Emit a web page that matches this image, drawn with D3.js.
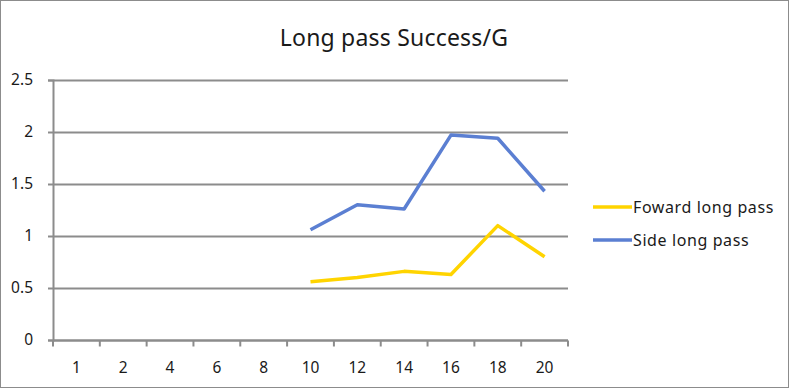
<!DOCTYPE html>
<html>
<head>
<meta charset="utf-8">
<script src="https://cdn.jsdelivr.net/npm/d3@7"></script>
<style>
  body { margin: 0; background: #fff; }
  text { font-family: "Noto Sans", "Open Sans", sans-serif; fill: #1a1a1a; }
</style>
</head>
<body>
<div id="chart"></div>
<script>
const categories = ["1", "2", "4", "6", "8", "10", "12", "14", "16", "18", "20"];
const forwardValues = [null, null, null, null, null, 0.56, 0.60, 0.66, 0.63, 1.10, 0.80];
const sideValues = [null, null, null, null, null, 1.06, 1.30, 1.26, 1.97, 1.94, 1.43];
const yTicks = [0, 0.5, 1, 1.5, 2, 2.5];

const series = [
    { name: "Foward long pass", values: forwardValues, color: "#ffd400" },
    { name: "Side long pass", values: sideValues, color: "#5b7fd2" }
];

const width = 789, height = 388;
const margin = { top: 80, right: 221, bottom: 48, left: 53 };

const svg = d3.select("#chart").append("svg")
    .attr("width", width)
    .attr("height", height);

// chart frame
svg.append("rect")
    .attr("x", 0.5).attr("y", 0.5)
    .attr("width", width - 1).attr("height", height - 1)
    .attr("fill", "#fff")
    .attr("stroke", "#8c8c8c");

svg.append("text")
    .attr("x", 394).attr("y", 46)
    .attr("text-anchor", "middle")
    .style("font-size", "23px")
    .style("letter-spacing", "0.2px")
    .text("Long pass Success/G");

const x = d3.scaleBand()
    .domain(categories)
    .range([margin.left, width - margin.right]);

const y = d3.scaleLinear()
    .domain([0, 2.5])
    .range([height - margin.bottom, margin.top]);

// gridlines
svg.append("g")
    .selectAll("line")
    .data(yTicks)
    .join("line")
    .attr("x1", margin.left).attr("x2", width - margin.right)
    .attr("y1", d => Math.round(y(d)) + 0.5)
    .attr("y2", d => Math.round(y(d)) + 0.5)
    .attr("stroke", "#8c8c8c")
    .attr("stroke-width", 2);

// y axis
const yAxis = svg.append("g")
    .attr("transform", `translate(${margin.left},0)`)
    .call(d3.axisLeft(y).tickValues(yTicks).tickSize(5).tickPadding(15).tickFormat(d3.format("")));
yAxis.select(".domain").attr("stroke", "#8c8c8c").attr("stroke-width", 2);
yAxis.selectAll(".tick line").attr("stroke", "#8c8c8c").attr("stroke-width", 2);
yAxis.selectAll("text").style("font-size", "15.5px").attr("fill", "#1a1a1a");

// x axis with ticks between categories
const xAxisG = svg.append("g")
    .attr("transform", `translate(0,${Math.round(y(0)) + 0.5})`);
xAxisG.append("line")
    .attr("x1", margin.left).attr("x2", width - margin.right)
    .attr("stroke", "#8c8c8c").attr("stroke-width", 2);
const bounds = categories.map(c => x(c)).concat([x(categories[categories.length - 1]) + x.bandwidth()]);
xAxisG.selectAll(".xt")
    .data(bounds)
    .join("line")
    .attr("class", "xt")
    .attr("x1", d => d).attr("x2", d => d)
    .attr("y1", 0).attr("y2", 6)
    .attr("stroke", "#8c8c8c").attr("stroke-width", 2);
xAxisG.selectAll(".xl")
    .data(categories)
    .join("text")
    .attr("class", "xl")
    .attr("x", d => x(d) + x.bandwidth() / 2)
    .attr("y", 32)
    .attr("text-anchor", "middle")
    .style("font-size", "15.5px")
    .text(d => d);

// lines
const line = d3.line()
    .defined(d => d.v != null)
    .x(d => x(d.c) + x.bandwidth() / 2)
    .y(d => y(d.v));

series.forEach(s => {
    svg.append("path")
        .datum(categories.map((c, i) => ({ c: c, v: s.values[i] })))
        .attr("fill", "none")
        .attr("stroke", s.color)
        .attr("stroke-width", 3.5)
        .attr("stroke-linejoin", "round")
        .attr("d", line);
});

// legend
const legend = svg.append("g")
    .attr("transform", "translate(593,207)");
series.forEach((s, i) => {
    const g = legend.append("g").attr("transform", `translate(0,${i * 33})`);
    g.append("line")
        .attr("x1", 0).attr("x2", 39)
        .attr("stroke", s.color).attr("stroke-width", 3.5);
    g.append("text")
        .attr("x", 40).attr("y", 6)
        .style("font-size", "16px")
        .style("letter-spacing", "0.6px")
        .text(s.name);
});
</script>
</body>
</html>
